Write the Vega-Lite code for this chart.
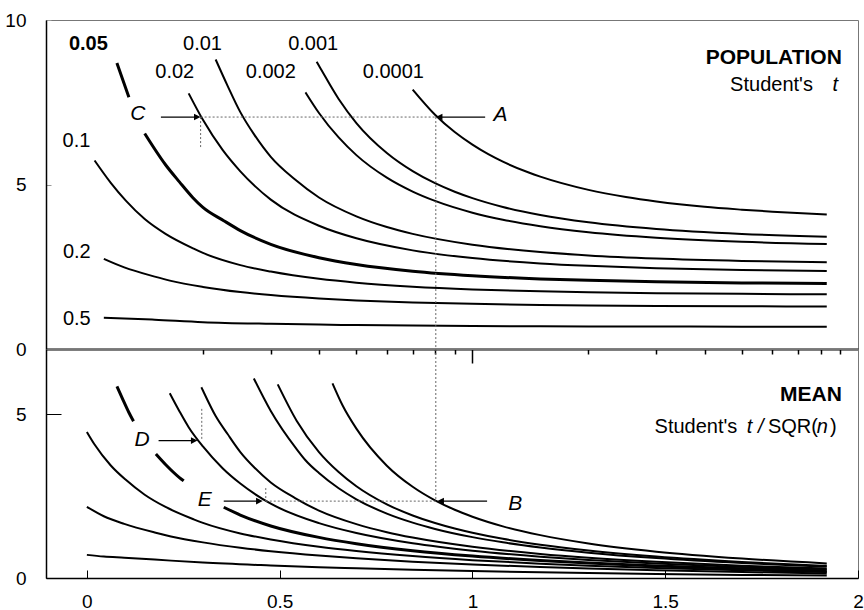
{
"$schema": "https://vega.github.io/schema/vega-lite/v6.json",
"padding": {"left": 4, "top": 10, "right": 0, "bottom": 0},
"background": "white",
"config": {
  "font": "Liberation Sans",
  "view": {"stroke": "#777", "strokeWidth": 1},
  "axis": {"grid": false, "domainColor": "black", "domainWidth": 1.5, "tickColor": "black", "labelColor": "black", "labelFontSize": 19, "labelFont": "Liberation Sans"}
},
"datasets": {
"top": [
{"p":"0.5","s":"0.5","x":0.044,"y":0.95},{"p":"0.5","s":"0.5","x":0.097,"y":0.93},{"p":"0.5","s":"0.5","x":0.176,"y":0.89},{"p":"0.5","s":"0.5","x":0.301,"y":0.816},{"p":"0.5","s":"0.5","x":0.477,"y":0.765},{"p":"0.5","s":"0.5","x":0.602,"y":0.741},{"p":"0.5","s":"0.5","x":0.699,"y":0.727},{"p":"0.5","s":"0.5","x":0.845,"y":0.711},{"p":"0.5","s":"0.5","x":1,"y":0.7},{"p":"0.5","s":"0.5","x":1.176,"y":0.691},{"p":"0.5","s":"0.5","x":1.301,"y":0.687},{"p":"0.5","s":"0.5","x":1.477,"y":0.683},{"p":"0.5","s":"0.5","x":1.699,"y":0.679},{"p":"0.5","s":"0.5","x":1.919,"y":0.677},
{"p":"0.2","s":"0.2","x":0.044,"y":2.74},{"p":"0.2","s":"0.2","x":0.097,"y":2.48},{"p":"0.2","s":"0.2","x":0.176,"y":2.2},{"p":"0.2","s":"0.2","x":0.218,"y":2.07},{"p":"0.2","s":"0.2","x":0.301,"y":1.886},{"p":"0.2","s":"0.2","x":0.398,"y":1.73},{"p":"0.2","s":"0.2","x":0.477,"y":1.638},{"p":"0.2","s":"0.2","x":0.602,"y":1.533},{"p":"0.2","s":"0.2","x":0.699,"y":1.476},{"p":"0.2","s":"0.2","x":0.845,"y":1.415},{"p":"0.2","s":"0.2","x":1,"y":1.372},{"p":"0.2","s":"0.2","x":1.176,"y":1.341},{"p":"0.2","s":"0.2","x":1.301,"y":1.325},{"p":"0.2","s":"0.2","x":1.477,"y":1.31},{"p":"0.2","s":"0.2","x":1.699,"y":1.299},{"p":"0.2","s":"0.2","x":1.919,"y":1.292},
{"p":"0.1","s":"0.1","x":0.02,"y":5.73},{"p":"0.1","s":"0.1","x":0.062,"y":5.05},{"p":"0.1","s":"0.1","x":0.101,"y":4.51},{"p":"0.1","s":"0.1","x":0.15,"y":3.95},{"p":"0.1","s":"0.1","x":0.204,"y":3.5},{"p":"0.1","s":"0.1","x":0.277,"y":3.05},{"p":"0.1","s":"0.1","x":0.301,"y":2.92},{"p":"0.1","s":"0.1","x":0.398,"y":2.55},{"p":"0.1","s":"0.1","x":0.477,"y":2.353},{"p":"0.1","s":"0.1","x":0.602,"y":2.132},{"p":"0.1","s":"0.1","x":0.699,"y":2.015},{"p":"0.1","s":"0.1","x":0.845,"y":1.895},{"p":"0.1","s":"0.1","x":1,"y":1.812},{"p":"0.1","s":"0.1","x":1.176,"y":1.753},{"p":"0.1","s":"0.1","x":1.301,"y":1.725},{"p":"0.1","s":"0.1","x":1.477,"y":1.697},{"p":"0.1","s":"0.1","x":1.699,"y":1.676},{"p":"0.1","s":"0.1","x":1.919,"y":1.663},
{"p":"0.05","s":"0.05a","x":0.078,"y":8.69},{"p":"0.05","s":"0.05a","x":0.094,"y":8.15},{"p":"0.05","s":"0.05a","x":0.109,"y":7.65},
{"p":"0.05","s":"0.05b","x":0.15,"y":6.55},{"p":"0.05","s":"0.05b","x":0.204,"y":5.6},{"p":"0.05","s":"0.05b","x":0.24,"y":5.08},{"p":"0.05","s":"0.05b","x":0.275,"y":4.6},{"p":"0.05","s":"0.05b","x":0.301,"y":4.303},{"p":"0.05","s":"0.05b","x":0.355,"y":3.9},{"p":"0.05","s":"0.05b","x":0.398,"y":3.6},{"p":"0.05","s":"0.05b","x":0.477,"y":3.182},{"p":"0.05","s":"0.05b","x":0.602,"y":2.776},{"p":"0.05","s":"0.05b","x":0.699,"y":2.571},{"p":"0.05","s":"0.05b","x":0.845,"y":2.365},{"p":"0.05","s":"0.05b","x":1,"y":2.228},{"p":"0.05","s":"0.05b","x":1.176,"y":2.131},{"p":"0.05","s":"0.05b","x":1.301,"y":2.086},{"p":"0.05","s":"0.05b","x":1.477,"y":2.042},{"p":"0.05","s":"0.05b","x":1.699,"y":2.009},{"p":"0.05","s":"0.05b","x":1.919,"y":1.989},
{"p":"0.02","s":"0.02","x":0.264,"y":7.77},{"p":"0.02","s":"0.02","x":0.301,"y":6.965},{"p":"0.02","s":"0.02","x":0.352,"y":6.05},{"p":"0.02","s":"0.02","x":0.398,"y":5.4},{"p":"0.02","s":"0.02","x":0.477,"y":4.541},{"p":"0.02","s":"0.02","x":0.602,"y":3.747},{"p":"0.02","s":"0.02","x":0.699,"y":3.365},{"p":"0.02","s":"0.02","x":0.845,"y":2.998},{"p":"0.02","s":"0.02","x":1,"y":2.764},{"p":"0.02","s":"0.02","x":1.176,"y":2.602},{"p":"0.02","s":"0.02","x":1.301,"y":2.528},{"p":"0.02","s":"0.02","x":1.477,"y":2.457},{"p":"0.02","s":"0.02","x":1.699,"y":2.403},{"p":"0.02","s":"0.02","x":1.919,"y":2.372},
{"p":"0.01","s":"0.01","x":0.334,"y":8.8},{"p":"0.01","s":"0.01","x":0.365,"y":8.0},{"p":"0.01","s":"0.01","x":0.398,"y":7.2},{"p":"0.01","s":"0.01","x":0.435,"y":6.5},{"p":"0.01","s":"0.01","x":0.477,"y":5.841},{"p":"0.01","s":"0.01","x":0.54,"y":5.15},{"p":"0.01","s":"0.01","x":0.602,"y":4.604},{"p":"0.01","s":"0.01","x":0.699,"y":4.032},{"p":"0.01","s":"0.01","x":0.778,"y":3.707},{"p":"0.01","s":"0.01","x":0.845,"y":3.499},{"p":"0.01","s":"0.01","x":1,"y":3.169},{"p":"0.01","s":"0.01","x":1.176,"y":2.947},{"p":"0.01","s":"0.01","x":1.301,"y":2.845},{"p":"0.01","s":"0.01","x":1.477,"y":2.75},{"p":"0.01","s":"0.01","x":1.699,"y":2.678},{"p":"0.01","s":"0.01","x":1.919,"y":2.636},
{"p":"0.002","s":"0.002","x":0.567,"y":7.8},{"p":"0.002","s":"0.002","x":0.602,"y":7.173},{"p":"0.002","s":"0.002","x":0.653,"y":6.43},{"p":"0.002","s":"0.002","x":0.699,"y":5.893},{"p":"0.002","s":"0.002","x":0.778,"y":5.208},{"p":"0.002","s":"0.002","x":0.845,"y":4.785},{"p":"0.002","s":"0.002","x":0.903,"y":4.501},{"p":"0.002","s":"0.002","x":1,"y":4.144},{"p":"0.002","s":"0.002","x":1.079,"y":3.93},{"p":"0.002","s":"0.002","x":1.176,"y":3.733},{"p":"0.002","s":"0.002","x":1.301,"y":3.552},{"p":"0.002","s":"0.002","x":1.477,"y":3.385},{"p":"0.002","s":"0.002","x":1.699,"y":3.261},{"p":"0.002","s":"0.002","x":1.919,"y":3.19},
{"p":"0.001","s":"0.001","x":0.596,"y":8.73},{"p":"0.001","s":"0.001","x":0.602,"y":8.61},{"p":"0.001","s":"0.001","x":0.653,"y":7.6},{"p":"0.001","s":"0.001","x":0.699,"y":6.869},{"p":"0.001","s":"0.001","x":0.778,"y":5.959},{"p":"0.001","s":"0.001","x":0.845,"y":5.408},{"p":"0.001","s":"0.001","x":0.903,"y":5.041},{"p":"0.001","s":"0.001","x":0.954,"y":4.781},{"p":"0.001","s":"0.001","x":1,"y":4.587},{"p":"0.001","s":"0.001","x":1.079,"y":4.318},{"p":"0.001","s":"0.001","x":1.176,"y":4.073},{"p":"0.001","s":"0.001","x":1.301,"y":3.85},{"p":"0.001","s":"0.001","x":1.477,"y":3.646},{"p":"0.001","s":"0.001","x":1.699,"y":3.496},{"p":"0.001","s":"0.001","x":1.919,"y":3.41},
{"p":"0.0001","s":"0.0001","x":0.845,"y":7.885},{"p":"0.0001","s":"0.0001","x":0.903,"y":7.12},{"p":"0.0001","s":"0.0001","x":0.954,"y":6.594},{"p":"0.0001","s":"0.0001","x":1,"y":6.211},{"p":"0.0001","s":"0.0001","x":1.041,"y":5.921},{"p":"0.0001","s":"0.0001","x":1.079,"y":5.694},{"p":"0.0001","s":"0.0001","x":1.146,"y":5.363},{"p":"0.0001","s":"0.0001","x":1.176,"y":5.239},{"p":"0.0001","s":"0.0001","x":1.301,"y":4.837},{"p":"0.0001","s":"0.0001","x":1.398,"y":4.619},{"p":"0.0001","s":"0.0001","x":1.477,"y":4.482},{"p":"0.0001","s":"0.0001","x":1.602,"y":4.321},{"p":"0.0001","s":"0.0001","x":1.699,"y":4.235},{"p":"0.0001","s":"0.0001","x":1.778,"y":4.175},{"p":"0.0001","s":"0.0001","x":1.919,"y":4.09}
],
"bot": [
{"p":"0.5","s":"0.5","x":0,"y":0.707},{"p":"0.5","s":"0.5","x":0.044,"y":0.654},{"p":"0.5","s":"0.5","x":0.097,"y":0.62},{"p":"0.5","s":"0.5","x":0.176,"y":0.563},{"p":"0.5","s":"0.5","x":0.301,"y":0.471},{"p":"0.5","s":"0.5","x":0.477,"y":0.383},{"p":"0.5","s":"0.5","x":0.602,"y":0.331},{"p":"0.5","s":"0.5","x":0.699,"y":0.297},{"p":"0.5","s":"0.5","x":0.845,"y":0.251},{"p":"0.5","s":"0.5","x":1,"y":0.211},{"p":"0.5","s":"0.5","x":1.176,"y":0.173},{"p":"0.5","s":"0.5","x":1.301,"y":0.15},{"p":"0.5","s":"0.5","x":1.477,"y":0.123},{"p":"0.5","s":"0.5","x":1.699,"y":0.095},{"p":"0.5","s":"0.5","x":1.919,"y":0.074},
{"p":"0.2","s":"0.2","x":0,"y":2.177},{"p":"0.2","s":"0.2","x":0.044,"y":1.887},{"p":"0.2","s":"0.2","x":0.097,"y":1.653},{"p":"0.2","s":"0.2","x":0.176,"y":1.391},{"p":"0.2","s":"0.2","x":0.218,"y":1.271},{"p":"0.2","s":"0.2","x":0.301,"y":1.089},{"p":"0.2","s":"0.2","x":0.398,"y":0.925},{"p":"0.2","s":"0.2","x":0.477,"y":0.819},{"p":"0.2","s":"0.2","x":0.602,"y":0.686},{"p":"0.2","s":"0.2","x":0.699,"y":0.603},{"p":"0.2","s":"0.2","x":0.845,"y":0.5},{"p":"0.2","s":"0.2","x":1,"y":0.414},{"p":"0.2","s":"0.2","x":1.176,"y":0.335},{"p":"0.2","s":"0.2","x":1.301,"y":0.289},{"p":"0.2","s":"0.2","x":1.477,"y":0.235},{"p":"0.2","s":"0.2","x":1.699,"y":0.182},{"p":"0.2","s":"0.2","x":1.919,"y":0.141},
{"p":"0.1","s":"0.1","x":0,"y":4.465},{"p":"0.1","s":"0.1","x":0.02,"y":4.08},{"p":"0.1","s":"0.1","x":0.062,"y":3.44},{"p":"0.1","s":"0.1","x":0.101,"y":3.0},{"p":"0.1","s":"0.1","x":0.15,"y":2.545},{"p":"0.1","s":"0.1","x":0.204,"y":2.171},{"p":"0.1","s":"0.1","x":0.277,"y":1.794},{"p":"0.1","s":"0.1","x":0.301,"y":1.686},{"p":"0.1","s":"0.1","x":0.398,"y":1.363},{"p":"0.1","s":"0.1","x":0.477,"y":1.177},{"p":"0.1","s":"0.1","x":0.602,"y":0.953},{"p":"0.1","s":"0.1","x":0.699,"y":0.823},{"p":"0.1","s":"0.1","x":0.845,"y":0.67},{"p":"0.1","s":"0.1","x":1,"y":0.546},{"p":"0.1","s":"0.1","x":1.176,"y":0.438},{"p":"0.1","s":"0.1","x":1.301,"y":0.376},{"p":"0.1","s":"0.1","x":1.477,"y":0.305},{"p":"0.1","s":"0.1","x":1.699,"y":0.235},{"p":"0.1","s":"0.1","x":1.919,"y":0.181},
{"p":"0.05","s":"0.05a","x":0.078,"y":5.86},{"p":"0.05","s":"0.05a","x":0.094,"y":5.44},{"p":"0.05","s":"0.05a","x":0.109,"y":5.06},{"p":"0.05","s":"0.05a","x":0.121,"y":4.79},
{"p":"0.05","s":"0.05b","x":0.179,"y":3.79},{"p":"0.05","s":"0.05b","x":0.204,"y":3.47},{"p":"0.05","s":"0.05b","x":0.24,"y":3.07},{"p":"0.05","s":"0.05b","x":0.251,"y":2.97},
{"p":"0.05","s":"0.05c","x":0.355,"y":2.163},{"p":"0.05","s":"0.05c","x":0.398,"y":1.924},{"p":"0.05","s":"0.05c","x":0.477,"y":1.591},{"p":"0.05","s":"0.05c","x":0.602,"y":1.241},{"p":"0.05","s":"0.05c","x":0.699,"y":1.05},{"p":"0.05","s":"0.05c","x":0.845,"y":0.836},{"p":"0.05","s":"0.05c","x":1,"y":0.672},{"p":"0.05","s":"0.05c","x":1.176,"y":0.533},{"p":"0.05","s":"0.05c","x":1.301,"y":0.455},{"p":"0.05","s":"0.05c","x":1.477,"y":0.367},{"p":"0.05","s":"0.05c","x":1.699,"y":0.281},{"p":"0.05","s":"0.05c","x":1.919,"y":0.217},
{"p":"0.02","s":"0.02","x":0.215,"y":5.65},{"p":"0.02","s":"0.02","x":0.24,"y":5.1},{"p":"0.02","s":"0.02","x":0.264,"y":4.61},{"p":"0.02","s":"0.02","x":0.301,"y":4.02},{"p":"0.02","s":"0.02","x":0.352,"y":3.355},{"p":"0.02","s":"0.02","x":0.398,"y":2.886},{"p":"0.02","s":"0.02","x":0.477,"y":2.27},{"p":"0.02","s":"0.02","x":0.602,"y":1.676},{"p":"0.02","s":"0.02","x":0.699,"y":1.374},{"p":"0.02","s":"0.02","x":0.845,"y":1.06},{"p":"0.02","s":"0.02","x":1,"y":0.833},{"p":"0.02","s":"0.02","x":1.176,"y":0.651},{"p":"0.02","s":"0.02","x":1.301,"y":0.552},{"p":"0.02","s":"0.02","x":1.477,"y":0.441},{"p":"0.02","s":"0.02","x":1.699,"y":0.337},{"p":"0.02","s":"0.02","x":1.919,"y":0.259},
{"p":"0.01","s":"0.01","x":0.297,"y":5.83},{"p":"0.01","s":"0.01","x":0.301,"y":5.73},{"p":"0.01","s":"0.01","x":0.334,"y":4.95},{"p":"0.01","s":"0.01","x":0.365,"y":4.4},{"p":"0.01","s":"0.01","x":0.398,"y":3.85},{"p":"0.01","s":"0.01","x":0.435,"y":3.37},{"p":"0.01","s":"0.01","x":0.477,"y":2.92},{"p":"0.01","s":"0.01","x":0.54,"y":2.444},{"p":"0.01","s":"0.01","x":0.602,"y":2.059},{"p":"0.01","s":"0.01","x":0.699,"y":1.646},{"p":"0.01","s":"0.01","x":0.778,"y":1.401},{"p":"0.01","s":"0.01","x":0.845,"y":1.237},{"p":"0.01","s":"0.01","x":1,"y":0.955},{"p":"0.01","s":"0.01","x":1.176,"y":0.737},{"p":"0.01","s":"0.01","x":1.301,"y":0.621},{"p":"0.01","s":"0.01","x":1.477,"y":0.494},{"p":"0.01","s":"0.01","x":1.699,"y":0.375},{"p":"0.01","s":"0.01","x":1.919,"y":0.288},
{"p":"0.002","s":"0.002","x":0.433,"y":6.1},{"p":"0.002","s":"0.002","x":0.477,"y":5.105},{"p":"0.002","s":"0.002","x":0.544,"y":3.94},{"p":"0.002","s":"0.002","x":0.567,"y":3.6},{"p":"0.002","s":"0.002","x":0.602,"y":3.208},{"p":"0.002","s":"0.002","x":0.653,"y":2.742},{"p":"0.002","s":"0.002","x":0.699,"y":2.406},{"p":"0.002","s":"0.002","x":0.778,"y":1.968},{"p":"0.002","s":"0.002","x":0.845,"y":1.692},{"p":"0.002","s":"0.002","x":0.903,"y":1.5},{"p":"0.002","s":"0.002","x":1,"y":1.249},{"p":"0.002","s":"0.002","x":1.079,"y":1.09},{"p":"0.002","s":"0.002","x":1.176,"y":0.933},{"p":"0.002","s":"0.002","x":1.301,"y":0.775},{"p":"0.002","s":"0.002","x":1.477,"y":0.608},{"p":"0.002","s":"0.002","x":1.699,"y":0.457},{"p":"0.002","s":"0.002","x":1.919,"y":0.348},
{"p":"0.001","s":"0.001","x":0.495,"y":5.92},{"p":"0.001","s":"0.001","x":0.544,"y":4.81},{"p":"0.001","s":"0.001","x":0.602,"y":3.851},{"p":"0.001","s":"0.001","x":0.653,"y":3.24},{"p":"0.001","s":"0.001","x":0.699,"y":2.805},{"p":"0.001","s":"0.001","x":0.778,"y":2.252},{"p":"0.001","s":"0.001","x":0.845,"y":1.912},{"p":"0.001","s":"0.001","x":0.903,"y":1.68},{"p":"0.001","s":"0.001","x":0.954,"y":1.512},{"p":"0.001","s":"0.001","x":1,"y":1.383},{"p":"0.001","s":"0.001","x":1.079,"y":1.197},{"p":"0.001","s":"0.001","x":1.176,"y":1.018},{"p":"0.001","s":"0.001","x":1.301,"y":0.84},{"p":"0.001","s":"0.001","x":1.477,"y":0.655},{"p":"0.001","s":"0.001","x":1.699,"y":0.49},{"p":"0.001","s":"0.001","x":1.919,"y":0.372},
{"p":"0.0001","s":"0.0001","x":0.637,"y":5.95},{"p":"0.0001","s":"0.0001","x":0.663,"y":5.28},{"p":"0.0001","s":"0.0001","x":0.699,"y":4.565},{"p":"0.0001","s":"0.0001","x":0.778,"y":3.433},{"p":"0.0001","s":"0.0001","x":0.845,"y":2.788},{"p":"0.0001","s":"0.0001","x":0.903,"y":2.373},{"p":"0.0001","s":"0.0001","x":0.954,"y":2.085},{"p":"0.0001","s":"0.0001","x":1,"y":1.873},{"p":"0.0001","s":"0.0001","x":1.079,"y":1.579},{"p":"0.0001","s":"0.0001","x":1.176,"y":1.31},{"p":"0.0001","s":"0.0001","x":1.301,"y":1.055},{"p":"0.0001","s":"0.0001","x":1.477,"y":0.805},{"p":"0.0001","s":"0.0001","x":1.699,"y":0.595},{"p":"0.0001","s":"0.0001","x":1.919,"y":0.447}
]
},
"spacing": 0,
"bounds": "flush",
"resolve": {"scale": {"x": "independent", "y": "independent"}},
"vconcat": [
{
  "width": 812, "height": 329,
  "layer": [
    {"data": {"name": "top"},
     "mark": {"type": "line", "interpolate": "monotone", "color": "black"},
     "encoding": {
       "x": {"field": "x", "type": "quantitative", "title": null, "scale": {"domain": [-0.106, 2], "nice": false, "zero": false},
             "axis": {"values": [0.301,0.477,0.602,0.699,0.778,0.845,0.903,0.954,1,1.301,1.477,1.602,1.699,1.778,1.845,1.903,1.954], "labels": false, "domainWidth": 2, "tickWidth": 1.5, "tickSize": {"condition": {"test": "datum.value === 1", "value": 14}, "value": 5}}},
       "y": {"field": "y", "type": "quantitative", "title": null, "scale": {"domain": [0, 10], "nice": false},
             "axis": {"values": [0, 5, 10], "tickSize": -5, "tickColor": "#999", "labelPadding": 25}},
       "detail": {"field": "s"},
       "strokeWidth": {"condition": {"test": "datum.p === '0.05'", "value": 3}, "value": 2}
     }},
    {"data": {"values": [{"x":0.295,"x2":0.905,"y":7.05,"y2":7.05},{"x":0.295,"x2":0.295,"y":7.05,"y2":6.1},{"x":0.905,"x2":0.905,"y":7.05,"y2":0}]},
     "mark": {"type": "rule", "color": "#666", "strokeWidth": 1, "strokeDash": [2, 2]},
     "encoding": {"x": {"field": "x", "type": "quantitative"}, "x2": {"field": "x2"}, "y": {"field": "y", "type": "quantitative"}, "y2": {"field": "y2"}}},
    {"data": {"values": [{"x":0.192,"x2":0.285,"y":7.05},{"x":1.033,"x2":0.915,"y":7.05}]},
     "mark": {"type": "rule", "color": "black", "strokeWidth": 1.3},
     "encoding": {"x": {"field": "x", "type": "quantitative"}, "x2": {"field": "x2"}, "y": {"field": "y", "type": "quantitative"}}},
    {"data": {"values": [{"x":0.295,"y":7.05,"d":"r"},{"x":0.905,"y":7.05,"d":"l"}]},
     "mark": {"type": "point", "filled": true, "color": "black", "opacity": 1, "size": 36},
     "encoding": {"x": {"field": "x", "type": "quantitative"}, "y": {"field": "y", "type": "quantitative"},
       "shape": {"field": "d", "type": "nominal", "legend": null, "scale": {"domain": ["r", "l"], "range": ["M 0 0 L -2.2 -1.1 L -2.2 1.1 Z", "M 0 0 L 2.2 -1.1 L 2.2 1.1 Z"]}}}},
    {"data": {"values": [{"t":"0.01","x":0.3,"y":9.09},{"t":"0.001","x":0.587,"y":9.09},{"t":"0.02","x":0.228,"y":8.23},{"t":"0.002","x":0.477,"y":8.23},{"t":"0.0001","x":0.795,"y":8.23},{"t":"0.1","x":-0.027,"y":6.13},{"t":"0.2","x":-0.026,"y":2.77},{"t":"0.5","x":-0.026,"y":0.73}]},
     "mark": {"type": "text", "fontSize": 20, "font": "Liberation Sans", "align": "center", "baseline": "alphabetic", "color": "black"},
     "encoding": {"x": {"field": "x", "type": "quantitative"}, "y": {"field": "y", "type": "quantitative"}, "text": {"field": "t"}}},
    {"data": {"values": [{"t":"0.05","x":0.004,"y":9.09}]},
     "mark": {"type": "text", "fontSize": 20, "font": "Liberation Sans", "fontWeight": "bold", "align": "center", "baseline": "alphabetic", "color": "black"},
     "encoding": {"x": {"field": "x", "type": "quantitative"}, "y": {"field": "y", "type": "quantitative"}, "text": {"field": "t"}}},
    {"data": {"values": [{"t":"C","x":0.132,"y":6.97},{"t":"A","x":1.073,"y":6.92}]},
     "mark": {"type": "text", "fontSize": 21, "font": "Liberation Sans", "fontStyle": "italic", "align": "center", "baseline": "alphabetic", "color": "black"},
     "encoding": {"x": {"field": "x", "type": "quantitative"}, "y": {"field": "y", "type": "quantitative"}, "text": {"field": "t"}}},
    {"data": {"values": [{"t":"POPULATION","x":1.958,"y":8.65}]},
     "mark": {"type": "text", "fontSize": 21, "font": "Liberation Sans", "fontWeight": "bold", "align": "right", "baseline": "alphabetic", "color": "black"},
     "encoding": {"x": {"field": "x", "type": "quantitative"}, "y": {"field": "y", "type": "quantitative"}, "text": {"field": "t"}}},
    {"data": {"values": [{"t":"Student's","x":1.883,"y":7.84}]},
     "mark": {"type": "text", "fontSize": 20, "font": "Liberation Sans", "align": "right", "baseline": "alphabetic", "color": "black"},
     "encoding": {"x": {"field": "x", "type": "quantitative"}, "y": {"field": "y", "type": "quantitative"}, "text": {"field": "t"}}},
    {"data": {"values": [{"t":"t","x":1.948,"y":7.84}]},
     "mark": {"type": "text", "fontSize": 20, "font": "Liberation Sans", "fontStyle": "italic", "align": "right", "baseline": "alphabetic", "color": "black"},
     "encoding": {"x": {"field": "x", "type": "quantitative"}, "y": {"field": "y", "type": "quantitative"}, "text": {"field": "t"}}}
  ]
},
{
  "width": 812, "height": 229,
  "layer": [
    {"data": {"name": "bot"},
     "mark": {"type": "line", "interpolate": "monotone", "color": "black"},
     "encoding": {
       "x": {"field": "x", "type": "quantitative", "title": null, "scale": {"domain": [-0.106, 2], "nice": false, "zero": false},
             "axis": {"values": [0, 0.5, 1, 1.5, 2], "format": "~g", "tickSize": -8, "labelPadding": 22, "labelFlush": false}},
       "y": {"field": "y", "type": "quantitative", "title": null, "scale": {"domain": [0, 7], "nice": false},
             "axis": {"values": [0, 5], "tickSize": -15, "labelPadding": 35}},
       "detail": {"field": "s"},
       "strokeWidth": {"condition": {"test": "datum.p === '0.05'", "value": 3}, "value": 2}
     }},
    {"data": {"values": [{"x":0.905,"x2":0.905,"y":7,"y2":2.35},{"x":0.464,"x2":0.905,"y":2.35,"y2":2.35},{"x":0.464,"x2":0.464,"y":2.75,"y2":2.35},{"x":0.298,"x2":0.298,"y":5.17,"y2":4.2}]},
     "mark": {"type": "rule", "color": "#666", "strokeWidth": 1, "strokeDash": [2, 2]},
     "encoding": {"x": {"field": "x", "type": "quantitative"}, "x2": {"field": "x2"}, "y": {"field": "y", "type": "quantitative"}, "y2": {"field": "y2"}}},
    {"data": {"values": [{"x":0.186,"x2":0.277,"y":4.2},{"x":0.355,"x2":0.446,"y":2.35},{"x":1.038,"x2":0.919,"y":2.35}]},
     "mark": {"type": "rule", "color": "black", "strokeWidth": 1.3},
     "encoding": {"x": {"field": "x", "type": "quantitative"}, "x2": {"field": "x2"}, "y": {"field": "y", "type": "quantitative"}}},
    {"data": {"values": [{"x":0.287,"y":4.2,"d":"r"},{"x":0.456,"y":2.35,"d":"r"},{"x":0.909,"y":2.35,"d":"l"}]},
     "mark": {"type": "point", "filled": true, "color": "black", "opacity": 1, "size": 36},
     "encoding": {"x": {"field": "x", "type": "quantitative"}, "y": {"field": "y", "type": "quantitative"},
       "shape": {"field": "d", "type": "nominal", "legend": null, "scale": {"domain": ["r", "l"], "range": ["M 0 0 L -2.2 -1.1 L -2.2 1.1 Z", "M 0 0 L 2.2 -1.1 L 2.2 1.1 Z"]}}}},
    {"data": {"values": [{"t":"D","x":0.143,"y":4.04},{"t":"E","x":0.306,"y":2.2},{"t":"B","x":1.111,"y":2.08}]},
     "mark": {"type": "text", "fontSize": 21, "font": "Liberation Sans", "fontStyle": "italic", "align": "center", "baseline": "alphabetic", "color": "black"},
     "encoding": {"x": {"field": "x", "type": "quantitative"}, "y": {"field": "y", "type": "quantitative"}, "text": {"field": "t"}}},
    {"data": {"values": [{"t":"MEAN","x":1.958,"y":5.41}]},
     "mark": {"type": "text", "fontSize": 21, "font": "Liberation Sans", "fontWeight": "bold", "align": "right", "baseline": "alphabetic", "color": "black"},
     "encoding": {"x": {"field": "x", "type": "quantitative"}, "y": {"field": "y", "type": "quantitative"}, "text": {"field": "t"}}},
    {"data": {"values": [{"t":"Student's","x":1.687,"y":4.44},{"t":"SQR(","x":1.896,"y":4.44},{"t":")","x":1.945,"y":4.44}]},
     "mark": {"type": "text", "fontSize": 20, "font": "Liberation Sans", "align": "right", "baseline": "alphabetic", "color": "black"},
     "encoding": {"x": {"field": "x", "type": "quantitative"}, "y": {"field": "y", "type": "quantitative"}, "text": {"field": "t"}}},
    {"data": {"values": [{"t":"t /","x":1.755,"y":4.44},{"t":"n","x":1.922,"y":4.44}]},
     "mark": {"type": "text", "fontSize": 20, "font": "Liberation Sans", "fontStyle": "italic", "align": "right", "baseline": "alphabetic", "color": "black"},
     "encoding": {"x": {"field": "x", "type": "quantitative"}, "y": {"field": "y", "type": "quantitative"}, "text": {"field": "t"}}}
  ]
}
]
}
